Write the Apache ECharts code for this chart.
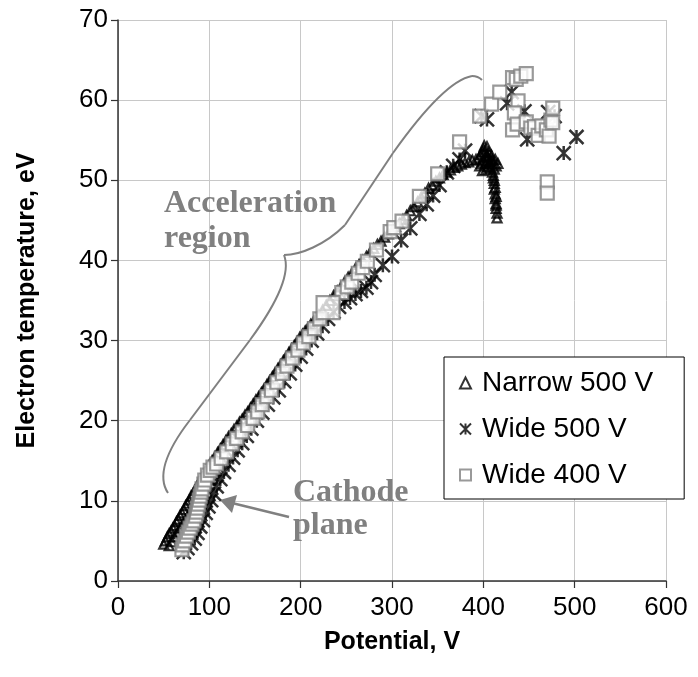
<!DOCTYPE html>
<html>
<head>
<meta charset="utf-8">
<script src="https://cdn.jsdelivr.net/npm/echarts@6/dist/echarts.min.js"></script>
<style>
  html, body { margin: 0; padding: 0; background: #fff; }
  #chart { width: 698px; height: 677px; }
</style>
</head>
<body>
<div id="chart"></div>
<script>
// Electron temperature versus local potential for three discharge configurations.
const seriesNames = ['Narrow 500 V', 'Wide 500 V', 'Wide 400 V'];
const xTicks = [0, 100, 200, 300, 400, 500, 600];
const yTicks = [0, 10, 20, 30, 40, 50, 60, 70];

// [potential V, electron temperature eV]
const narrow500 = [
  [50,4.6],[52,5.0],[54,5.5],[56,5.9],[58,6.2],[60,6.6],[62,6.9],[64,7.4],[66,7.7],[68,8.2],
  [70,8.5],[72,8.9],[74,9.4],[76,9.7],[78,10.1],[80,10.6],[82,10.9],[84,11.3],[86,11.7],[88,12.1],
  [90,12.6],[92,12.9],[94,13.3],[96,13.7],[98,14.1],[100,14.5],
  [56,4.4],[59,4.9],[62,5.5],[65,6.0],[68,6.6],[71,7.1],[74,7.6],[77,8.2],[80,8.7],[83,9.3],
  [86,9.8],[89,10.4],[92,10.9],[95,11.5],[98,12.1],[101,12.6],[104,13.2],[107,13.8],[110,14.5],
  [103,15.0],[106,15.5],[109,16.0],[112,16.5],[115,17.0],[118,17.5],[121,18.0],[124,18.4],[127,18.9],
  [130,19.3],[133,19.8],[136,20.2],[139,20.7],[142,21.1],[145,21.6],[148,22.1],[151,22.6],[154,23.0],
  [157,23.5],[160,24.0],[163,24.5],[166,25.0],[169,25.5],[172,26.0],[175,26.5],[178,27.0],[181,27.5],
  [184,28.0],[187,28.5],[190,29.0],[193,29.4],[196,29.9],[199,30.4],[202,30.8],[205,31.2],[208,31.6],
  [211,32.0],[214,32.4],[217,32.8],[220,33.2],[224,33.8],[228,34.4],[232,35.0],[236,35.6],[240,36.2],
  [244,36.7],[248,37.3],[252,37.9],[256,38.4],[260,39.0],[264,39.5],[268,40.0],[272,40.5],[276,41.0],
  [280,41.5],[284,42.0],[288,42.4],[292,42.9],[296,43.3],[300,43.7],[304,44.2],[308,44.6],[312,45.1],
  [316,45.6],[320,46.2],[324,46.7],[328,47.3],[332,47.9],[336,48.4],[340,49.0],[344,49.4],[348,49.9],
  [352,50.3],[356,50.7],[360,51.0],[364,51.3],[368,51.6],[372,51.8],[376,52.0],[380,52.2],[384,52.3],
  [388,52.5],[392,52.6],
  [395,52.8],[397,53.2],[399,53.5],[400,53.9],[401,54.3],[402,53.6],[403,53.0],[404,52.4],[405,52.9],
  [406,53.5],[404,54.2],[407,52.2],[408,52.6],[409,53.1],[410,52.5],[411,52.0],[396,51.8],[398,52.1],
  [400,52.4],[402,52.0],[405,51.7],[408,51.6],[412,51.4],[414,51.8],[416,52.1],[413,52.6],[403,51.4],
  [399,51.2],
  [410,51.0],[411,50.3],[412,49.6],[412,48.9],[413,48.3],[413,47.7],[414,47.1],[414,46.5],[415,45.9],
  [415,45.3],[411,50.6],[412,50.0],[413,49.1],[414,48.0],[414,46.9]
];

const wide500 = [
  [72,3.6],[76,4.1],[80,4.7],[84,5.3],[87,6.0],[90,6.8],[93,7.6],[96,8.5],[99,9.3],[102,10.1],
  [105,10.9],[108,11.8],[112,12.7],[116,13.6],[121,14.5],[126,15.4],[131,16.3],[136,17.2],[141,18.1],
  [146,19.0],[152,20.0],[158,21.0],[164,22.0],[170,22.9],[176,23.8],[182,24.9],[188,25.9],[194,27.0],
  [200,28.0],[206,29.0],[212,30.0],[218,30.9],[224,31.8],[230,32.7],[236,33.6],[242,34.2],[248,34.8],
  [254,35.3],[260,35.8],[266,36.2],[272,36.6],[277,37.3],[281,38.2],[290,39.4],[300,40.5],[310,42.5],
  [320,44.0],[330,45.8],[338,47.0],[345,48.1],[352,49.4],[360,51.0],[367,51.8],[374,52.6],[380,53.7],
  [398,58.0],[404,57.6],[426,59.6],[431,61.0],[445,58.6],[448,55.1],[471,58.5],[478,58.0],[488,53.4],
  [502,55.4]
];

const wide400 = [
  [70,3.9],[71,4.5],[73,5.0],[75,5.6],[77,6.1],[79,6.6],[81,7.1],[83,7.5],[85,8.1],[86,8.6],
  [87,9.1],[88,9.6],[89,10.1],[90,10.6],[91,11.1],[92,11.5],[94,12.1],[95,12.6],[98,13.2],[101,13.8],
  [104,14.2],[108,14.6],[113,15.3],[119,16.1],[125,17.1],[130,17.8],[136,18.6],[142,19.4],[148,20.3],
  [153,21.1],[158,22.0],[163,23.0],[168,23.8],[174,24.8],[180,25.9],[185,26.8],[191,27.8],[197,28.8],
  [203,29.7],[209,30.5],[215,31.5],[221,32.7],[245,36.0],[251,36.7],[256,37.3],[263,38.4],[268,39.1],
  [273,39.9],[283,41.3],[298,43.6],[302,44.1],[311,44.9],[330,48.0],[350,50.8],[374,54.8],[396,58.0],
  [409,59.5],[418,61.0],[432,62.8],[436,62.6],[441,63.0],[447,63.3],[438,59.9],[434,58.4],[432,56.3],
  [437,57.0],[447,57.3],[452,56.5],[456,56.7],[460,55.6],[464,56.8],[469,56.3],[472,55.5],[474,57.5],
  [476,59.0],[476,57.2],[470,49.8],[470,48.4]
];
// one oversized marker in the Wide 400 V run
const wide400Large = [[230,34.1]];

const starPath = 'path://M0,0L10,10M10,0L0,10M5,0L5,10';
const FONT = '"Liberation Sans", Arial, sans-serif';
const SERIF = '"Liberation Serif", "Times New Roman", serif';

const chart = echarts.init(document.getElementById('chart'), null, { renderer: 'canvas' });

const axisCommon = {
  axisLine: { show: true, onZero: false, lineStyle: { color: '#333', width: 1.5 } },
  axisTick: { show: true, inside: false, length: 7, lineStyle: { color: '#333', width: 1.2 } },
  splitLine: { show: true, lineStyle: { color: '#c8c8c8', width: 1 } },
  axisLabel: { color: '#000', fontFamily: FONT, fontSize: 26 },
  nameTextStyle: { color: '#000', fontFamily: FONT, fontSize: 25, fontWeight: 'bold' }
};

chart.setOption({
  animation: false,
  backgroundColor: '#fff',
  grid: { left: 118, right: 32, top: 20, bottom: 96, containLabel: false },
  xAxis: Object.assign({}, axisCommon, {
    type: 'value', min: xTicks[0], max: xTicks[xTicks.length - 1], interval: 100,
    name: 'Potential, V', nameLocation: 'middle', nameGap: 49,
    axisLabel: Object.assign({}, axisCommon.axisLabel, { margin: 14 })
  }),
  yAxis: Object.assign({}, axisCommon, {
    type: 'value', min: yTicks[0], max: yTicks[yTicks.length - 1], interval: 10,
    name: 'Electron temperature, eV', nameLocation: 'middle', nameGap: 78,
    axisLabel: Object.assign({}, axisCommon.axisLabel, { margin: 10 })
  }),
  legend: {
    orient: 'vertical', left: 444, top: 357,
    padding: [11, 31, 9, 15], itemGap: 16,
    itemWidth: 11, itemHeight: 11,
    backgroundColor: '#fff', borderColor: '#000', borderWidth: 1,
    textStyle: { color: '#000', fontFamily: FONT, fontSize: 28, lineHeight: 30, padding: [0, 0, 0, 6] },
    data: seriesNames
  },
  series: [
    {
      name: seriesNames[0], type: 'scatter', data: narrow500,
      symbol: 'triangle', symbolSize: 9, z: 3,
      itemStyle: { color: 'rgba(255,255,255,0)', borderColor: '#000', borderWidth: 2.2 }
    },
    {
      name: seriesNames[1], type: 'scatter', data: wide500,
      symbol: starPath, symbolSize: 14, z: 4,
      itemStyle: { color: 'rgba(0,0,0,0)', borderColor: '#000', borderWidth: 2.5 }
    },
    {
      name: seriesNames[2], type: 'scatter', data: wide400,
      symbol: 'rect', symbolSize: 13, z: 5,
      itemStyle: { color: '#fff', borderColor: '#7f7f7f', borderWidth: 2.2 }
    },
    {
      name: seriesNames[2], type: 'scatter', data: wide400Large,
      symbol: 'rect', symbolSize: 23, z: 5,
      itemStyle: { color: '#fff', borderColor: '#7f7f7f', borderWidth: 2.2 }
    }
  ]
});

// Annotations: brace over the acceleration region and the cathode plane pointer.
const gray = '#808080';
const braceStyle = { fill: null, stroke: gray, lineWidth: 2 };
function bez(p) {
  return { type: 'bezierCurve', silent: true, z: 2, style: braceStyle,
    shape: { x1: p[0], y1: p[1], cpx1: p[2], cpy1: p[3], cpx2: p[4], cpy2: p[5], x2: p[6], y2: p[7] } };
}
function seg(p) {
  return { type: 'line', silent: true, z: 2, style: braceStyle,
    shape: { x1: p[0], y1: p[1], x2: p[2], y2: p[3] } };
}
function label(x, y, text) {
  return { type: 'text', silent: true, z: 2,
    style: { x: x, y: y, text: text, font: 'bold 32px ' + SERIF, fill: gray, verticalAlign: 'middle' } };
}
chart.setOption({
  graphic: [
    bez([168, 493, 158, 478, 163, 455, 190, 420]),
    seg([190, 420, 250, 340]),
    bez([250, 340, 272, 310, 292, 275, 284, 255]),
    bez([284, 255, 300, 255, 325, 245, 345, 225]),
    seg([345, 225, 393, 153]),
    bez([393, 153, 420, 115, 450, 80, 472, 76]),
    bez([472, 76, 477, 76, 480, 78, 482, 80]),
    { type: 'line', silent: true, z: 2, shape: { x1: 289, y1: 517, x2: 232, y2: 503 },
      style: { stroke: gray, lineWidth: 2.5 } },
    { type: 'polygon', silent: true, z: 2, shape: { points: [[220, 500], [232, 513], [237, 495]] },
      style: { fill: gray } },
    label(164, 204, 'Acceleration'),
    label(164, 239, 'region'),
    label(293, 493, 'Cathode'),
    label(293, 526, 'plane')
  ]
});
</script>
</body>
</html>
